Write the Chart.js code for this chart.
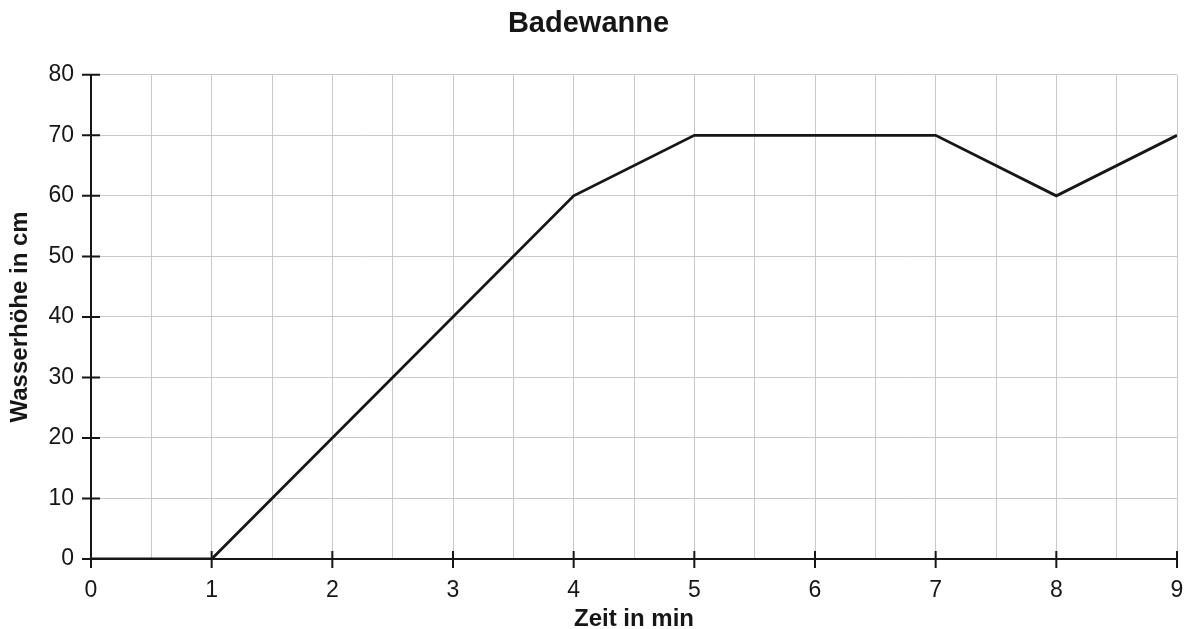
<!DOCTYPE html>
<html>
<head>
<meta charset="utf-8">
<script src="https://cdn.jsdelivr.net/npm/chart.js@4"></script>
<style>
  html, body { margin: 0; padding: 0; background: #fff; }
  #wrap { width: 1191px; height: 629px; }
</style>
</head>
<body>
<div id="wrap"><canvas id="c" width="1191" height="629"></canvas></div>
<script>
const chartTitle = 'Badewanne';
const xAxisTitle = 'Zeit in min';
const yAxisTitle = 'Wasserhöhe in cm';
const timeMin = [0, 1, 4, 5, 7, 8, 9];
const waterCm = [0, 0, 60, 70, 70, 60, 70];
const xMin = 0, xMax = 9, xGridStep = 0.5;
const yMin = 0, yMax = 80, yStep = 10;

const FONT = "'Liberation Sans', Arial, Helvetica, sans-serif";
const INK = '#161616';
const GRID = '#c9c9c9';

const whiteBg = {
  id: 'whiteBg',
  beforeDraw(chart) {
    const ctx = chart.ctx;
    ctx.save();
    ctx.fillStyle = '#fff';
    ctx.fillRect(0, 0, chart.width, chart.height);
    ctx.restore();
  }
};

const crossTicks = {
  id: 'crossTicks',
  afterDatasetsDraw(chart) {
    const ctx = chart.ctx;
    const xs = chart.scales.x, ys = chart.scales.y;
    const x0 = xs.getPixelForValue(xMin);
    const y0 = ys.getPixelForValue(yMin);
    ctx.save();
    ctx.strokeStyle = INK;
    ctx.lineWidth = 2;
    ctx.beginPath();
    for (let v = yMin; v <= yMax; v += yStep) {
      const py = ys.getPixelForValue(v);
      ctx.moveTo(x0 - 9, py);
      ctx.lineTo(x0 + 9, py);
    }
    for (let v = xMin; v <= xMax; v += 1) {
      const px = xs.getPixelForValue(v);
      ctx.moveTo(px, y0 - 8);
      ctx.lineTo(px, y0 + 9);
    }
    ctx.stroke();
    ctx.restore();
  }
};

new Chart(document.getElementById('c'), {
  type: 'scatter',
  data: {
    datasets: [{
      data: timeMin.map((t, i) => ({ x: t, y: waterCm[i] })),
      showLine: true,
      borderColor: INK,
      borderWidth: 2.8,
      pointRadius: 0,
      tension: 0,
      fill: false
    }]
  },
  options: {
    responsive: false,
    animation: false,
    devicePixelRatio: 1,
    layout: { padding: { left: 0, right: 14, top: 0, bottom: 0 } },
    plugins: {
      legend: { display: false },
      tooltip: { enabled: false },
      title: {
        display: true,
        text: chartTitle,
        color: INK,
        font: { family: FONT, size: 29, weight: 'bold' },
        padding: { top: 7, bottom: 33 }
      }
    },
    scales: {
      x: {
        type: 'linear',
        min: xMin, max: xMax,
        afterBuildTicks(scale) {
          const t = [];
          for (let v = xMin; v <= xMax + 1e-9; v += xGridStep) t.push({ value: v });
          scale.ticks = t;
        },
        afterFit(scale) { scale.height = 70; scale.paddingRight = 0; scale.paddingLeft = 0; },
        ticks: {
          autoSkip: false,
          maxRotation: 0,
          padding: 18,
          color: INK,
          font: { family: FONT, size: 23 },
          callback: (v) => Number.isInteger(v) ? String(v) : ''
        },
        grid: { color: GRID, lineWidth: 1, drawTicks: false },
        border: { color: INK, width: 2 },
        title: {
          display: true,
          text: xAxisTitle,
          color: INK,
          font: { family: FONT, size: 24, weight: 'bold' },
          padding: { top: 0, bottom: -5 }
        }
      },
      y: {
        type: 'linear',
        min: yMin, max: yMax,
        afterFit(scale) { scale.width = 91; },
        ticks: {
          stepSize: yStep,
          padding: 17,
          color: INK,
          font: { family: FONT, size: 23 }
        },
        grid: { color: GRID, lineWidth: 1, drawTicks: false },
        border: { color: INK, width: 2 },
        title: {
          display: true,
          text: yAxisTitle,
          color: INK,
          font: { family: FONT, size: 24, weight: 'bold' },
          padding: { top: 6, bottom: 0 }
        }
      }
    }
  },
  plugins: [whiteBg, crossTicks]
});
</script>
</body>
</html>
